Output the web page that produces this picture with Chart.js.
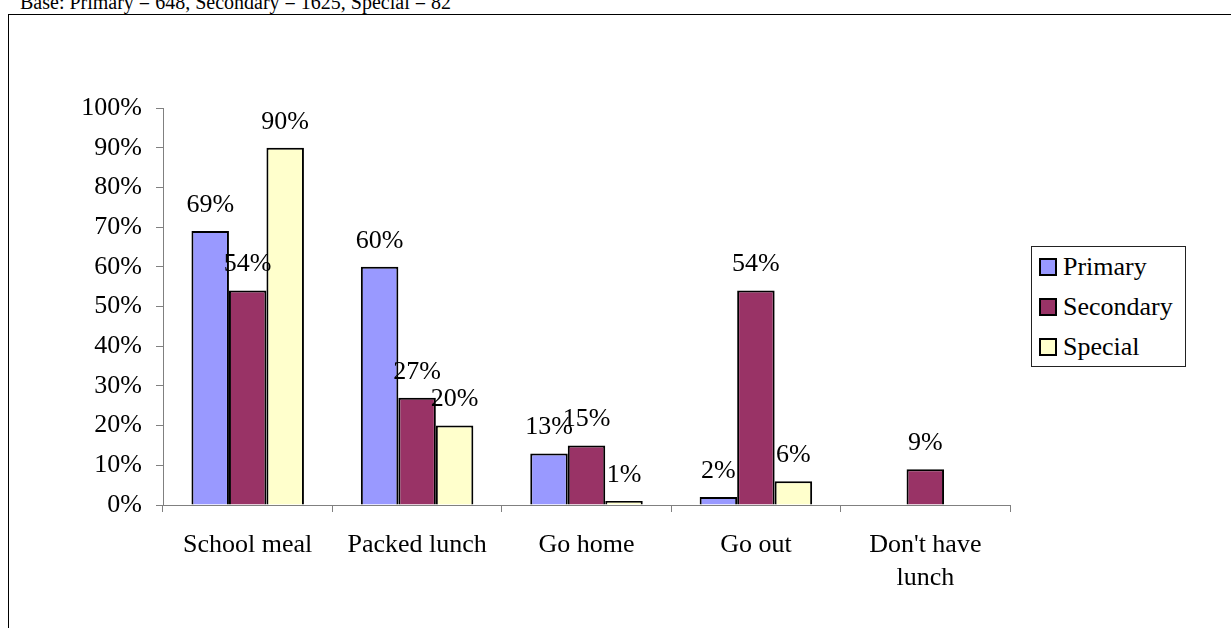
<!DOCTYPE html>
<html>
<head>
<meta charset="utf-8">
<script src="https://cdn.jsdelivr.net/npm/chart.js"></script>
<style>
  html, body { margin: 0; padding: 0; background: #fff; overflow: hidden; }
  body { width: 1231px; height: 628px; position: relative; font-family: "Liberation Serif", "Times New Roman", serif; }
  #base { position: absolute; left: 20px; top: -8px; font-size: 20px; line-height: 20px; white-space: nowrap; color: #000; }
  #frame { position: absolute; left: 8px; top: 14px; width: 1400px; height: 800px; border: 1px solid #000; }
  #wrap { position: absolute; left: 0; top: 0; width: 1231px; height: 628px; }
  #legend { position: absolute; left: 1031px; top: 246px; width: 153px; height: 119px; border: 1px solid #222; background: #fff; }
  .row { height: 40px; display: flex; align-items: center; font-size: 26px; line-height: 40px; color: #000; }
  .sw { width: 14px; height: 14px; border: 2px solid #000; margin-left: 7px; margin-right: 6px; flex: none; }
</style>
</head>
<body>
<div id="base">Base: Primary = 648, Secondary = 1625, Special = 82</div>
<div id="frame"></div>
<div id="wrap"><canvas id="chart" width="1231" height="628"></canvas></div>
<div id="legend"></div>
<script>
// 集計データ
const categories = ["School meal", "Packed lunch", "Go home", "Go out", ["Don't have", "lunch"]];
const primary = [69, 60, 13, 2, null];
const secondary = [54, 27, 15, 54, 9];
const special = [90, 20, 1, 6, null];
const yTicks = [0, 10, 20, 30, 40, 50, 60, 70, 80, 90, 100];

const seriesNames = ["Primary", "Secondary", "Special"];
const seriesColors = ["#9999FF", "#993366", "#FFFFCC"];

const FONT = "'Liberation Serif', 'Times New Roman', serif";

// バーの上に値を描く
const valueLabels = {
    id: "valueLabels",
    afterDatasetsDraw(chart) {
        const ctx = chart.ctx;
        ctx.save();
        ctx.font = "26px " + FONT;
        ctx.fillStyle = "#000";
        ctx.textAlign = "center";
        ctx.textBaseline = "middle";
        chart.data.datasets.forEach((ds, i) => {
            const meta = chart.getDatasetMeta(i);
            meta.data.forEach((bar, j) => {
                const v = ds.data[j];
                if (v === null || v === undefined) return;
                ctx.fillText(v + "%", bar.x, bar.y - 26);
            });
        });
        ctx.restore();
    }
};

const ctx = document.getElementById("chart").getContext("2d");
const chart = new Chart(ctx, {
    type: "bar",
    data: {
        labels: categories,
        datasets: [primary, secondary, special].map((d, i) => ({
            label: seriesNames[i],
            data: d,
            backgroundColor: seriesColors[i],
            borderColor: "#000",
            borderWidth: 2,
            categoryPercentage: 0.664,
            barPercentage: 1,
        })),
    },
    options: {
        responsive: false,
        animation: false,
        layout: { padding: { left: 0, top: 108, right: 221, bottom: 0 } },
        plugins: {
            legend: { display: false },
            tooltip: { enabled: false },
        },
        scales: {
            x: {
                grid: { display: true, drawOnChartArea: false, offset: true, tickLength: 7, color: "#808080" },
                border: { color: "#808080", width: 1 },
                ticks: {
                    color: "#000",
                    font: { family: FONT, size: 26, lineHeight: 1.27 },
                    padding: 17,
                    maxRotation: 0,
                    autoSkip: false,
                },
                afterFit: (s) => { s.height = 123; },
            },
            y: {
                min: 0,
                max: 100,
                afterBuildTicks: (s) => { s.ticks = yTicks.map(v => ({ value: v })); },
                grid: { display: true, drawOnChartArea: false, tickLength: 7, color: "#808080" },
                border: { color: "#808080", width: 1 },
                ticks: {
                    color: "#000",
                    font: { family: FONT, size: 26 },
                    padding: 14,
                    callback: (v) => v + "%",
                },
                afterFit: (s) => { s.width = 163; },
            },
        },
    },
    plugins: [valueLabels],
});

// 凡例
const legend = document.getElementById("legend");
seriesNames.forEach((name, i) => {
    const row = document.createElement("div");
    row.className = "row";
    const sw = document.createElement("span");
    sw.className = "sw";
    sw.style.background = seriesColors[i];
    const t = document.createElement("span");
    t.textContent = name;
    row.appendChild(sw);
    row.appendChild(t);
    legend.appendChild(row);
});
</script>
</body>
</html>
